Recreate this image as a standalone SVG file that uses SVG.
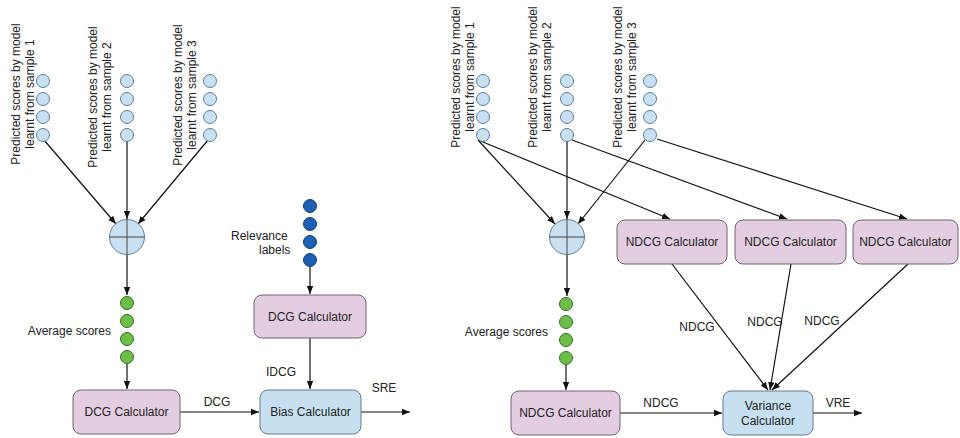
<svg xmlns="http://www.w3.org/2000/svg" width="960" height="438" viewBox="0 0 960 438">
<style>
text{font-family:"Liberation Sans",Arial,sans-serif;font-size:12px;fill:#222}
.lb{fill:#c8e0f2;stroke:#5d7e98;stroke-width:1}
.gr{fill:#6dbd47;stroke:#2f7328;stroke-width:1}
.db{fill:#1c5fb3;stroke:#0f3f7c;stroke-width:1}
.pk{fill:#e3cee1;stroke:#6e6470;stroke-width:1}
.bl{fill:#c7e0f1;stroke:#66788a;stroke-width:1}
.c{fill:none;stroke:#111;stroke-width:1.2;marker-end:url(#ah)}
.cn{fill:none;stroke:#111;stroke-width:1.2}
.m{text-anchor:middle}
.e{text-anchor:end}
</style>
<defs>
<marker id="ah" viewBox="0 0 10 10" refX="10" refY="5" markerWidth="8" markerHeight="8" markerUnits="userSpaceOnUse" orient="auto"><path d="M0,1 L10,5 L0,9 z" fill="#111"/></marker>
</defs>
<rect width="960" height="438" fill="#fff"/>

<g id="connectors">
<path class="c" d="M44,140 L116,224"/>
<path class="c" d="M127,141 L127,219"/>
<path class="c" d="M208,140 L138,224"/>
<path class="c" d="M127,255 L127,295"/>
<path class="c" d="M127,364 L127,389"/>
<path class="c" d="M180,412 L259,412"/>
<path class="c" d="M310,267 L310,294"/>
<path class="c" d="M310,338 L310,389"/>
<path class="c" d="M361,412 L410,412"/>
<path class="c" d="M478,140 L555,224"/>
<path class="c" d="M478,140 L670,219"/>
<path class="c" d="M567,141 L567,219"/>
<path class="c" d="M572,140 L787,219"/>
<path class="c" d="M645,140 L578,224"/>
<path class="c" d="M657,139 L907,219"/>
<path class="c" d="M567,255 L567,296"/>
<path class="c" d="M566,364 L566,390"/>
<path class="c" d="M620,413 L722,413"/>
<path class="c" d="M672,264 L768,390"/>
<path class="c" d="M791,264 L770,390"/>
<path class="c" d="M908,264 L772,390"/>
<path class="c" d="M813,413 L862,413"/>
<text class="m" x="217" y="406">DCG</text>
<text class="m" x="281" y="376">IDCG</text>
<text class="m" x="384" y="392">SRE</text>
<text class="m" x="697" y="331">NDCG</text>
<text class="m" x="765" y="326">NDCG</text>
<text class="m" x="822" y="325">NDCG</text>
<text class="m" x="661" y="407">NDCG</text>
<text class="m" x="838" y="407">VRE</text>
</g>

<g id="scores-left-1">
<circle class="lb" cx="43" cy="81" r="6.5"/><circle class="lb" cx="43" cy="99" r="6.5"/><circle class="lb" cx="43" cy="117" r="6.5"/><circle class="lb" cx="43" cy="135" r="6.5"/>
<text class="m" transform="translate(20,94) rotate(-90)"><tspan x="0" y="0">Predicted scores by model</tspan><tspan x="0" y="14">learnt from sample 1</tspan></text>
</g>
<g id="scores-left-2">
<circle class="lb" cx="127" cy="81" r="6.5"/><circle class="lb" cx="127" cy="99" r="6.5"/><circle class="lb" cx="127" cy="117" r="6.5"/><circle class="lb" cx="127" cy="135" r="6.5"/>
<text class="m" transform="translate(97,97) rotate(-90)"><tspan x="0" y="0">Predicted scores by model</tspan><tspan x="0" y="14">learnt from sample 2</tspan></text>
</g>
<g id="scores-left-3">
<circle class="lb" cx="210" cy="81" r="6.5"/><circle class="lb" cx="210" cy="99" r="6.5"/><circle class="lb" cx="210" cy="117" r="6.5"/><circle class="lb" cx="210" cy="135" r="6.5"/>
<text class="m" transform="translate(182,95) rotate(-90)"><tspan x="0" y="0">Predicted scores by model</tspan><tspan x="0" y="14">learnt from sample 3</tspan></text>
</g>
<g id="sum-left">
<circle class="lb" cx="127" cy="237" r="17.5"/>
<path d="M109.5,237 H144.5 M127,219.5 V254.5" stroke="#444" stroke-width="1"/>
</g>
<g id="avg-left">
<circle class="gr" cx="127" cy="303" r="6.5"/><circle class="gr" cx="127" cy="321" r="6.5"/><circle class="gr" cx="127" cy="339" r="6.5"/><circle class="gr" cx="127" cy="357" r="6.5"/>
<text class="e" x="111" y="335">Average scores</text>
</g>
<g id="relevance">
<circle class="db" cx="310" cy="206" r="6.5"/><circle class="db" cx="310" cy="224" r="6.5"/><circle class="db" cx="310" cy="242" r="6.5"/><circle class="db" cx="310" cy="260" r="6.5"/>
<text x="231" y="240">Relevance</text>
<text x="259" y="254">labels</text>
</g>
<g id="dcg-calc-1">
<rect class="pk" x="73" y="390" width="107" height="44" rx="8"/>
<text class="m" x="126.5" y="416">DCG Calculator</text>
</g>
<g id="dcg-calc-2">
<rect class="pk" x="254" y="295" width="112" height="43" rx="8"/>
<text class="m" x="310" y="321">DCG Calculator</text>
</g>
<g id="bias-calc">
<rect class="bl" x="260" y="390" width="101" height="44" rx="8"/>
<text class="m" x="310.5" y="416">Bias Calculator</text>
</g>

<g id="scores-right-1">
<circle class="lb" cx="483" cy="81" r="6.5"/><circle class="lb" cx="483" cy="99" r="6.5"/><circle class="lb" cx="483" cy="117" r="6.5"/><circle class="lb" cx="483" cy="135" r="6.5"/>
<text class="m" transform="translate(460,77) rotate(-90)"><tspan x="0" y="0">Predicted scores by model</tspan><tspan x="0" y="14">learnt from sample 1</tspan></text>
</g>
<g id="scores-right-2">
<circle class="lb" cx="567" cy="81" r="6.5"/><circle class="lb" cx="567" cy="99" r="6.5"/><circle class="lb" cx="567" cy="117" r="6.5"/><circle class="lb" cx="567" cy="135" r="6.5"/>
<text class="m" transform="translate(537,77) rotate(-90)"><tspan x="0" y="0">Predicted scores by model</tspan><tspan x="0" y="14">learnt from sample 2</tspan></text>
</g>
<g id="scores-right-3">
<circle class="lb" cx="650" cy="81" r="6.5"/><circle class="lb" cx="650" cy="99" r="6.5"/><circle class="lb" cx="650" cy="117" r="6.5"/><circle class="lb" cx="650" cy="135" r="6.5"/>
<text class="m" transform="translate(622,77) rotate(-90)"><tspan x="0" y="0">Predicted scores by model</tspan><tspan x="0" y="14">learnt from sample 3</tspan></text>
</g>
<g id="sum-right">
<circle class="lb" cx="567" cy="237" r="17.5"/>
<path d="M549.5,237 H584.5 M567,219.5 V254.5" stroke="#444" stroke-width="1"/>
</g>
<g id="avg-right">
<circle class="gr" cx="566" cy="304" r="6.5"/><circle class="gr" cx="566" cy="322" r="6.5"/><circle class="gr" cx="566" cy="340" r="6.5"/><circle class="gr" cx="566" cy="358" r="6.5"/>
<text class="e" x="548" y="336">Average scores</text>
</g>
<g id="ndcg-calc-1">
<rect class="pk" x="617" y="220" width="110" height="44" rx="8"/>
<text class="m" x="672" y="246">NDCG Calculator</text>
</g>
<g id="ndcg-calc-2">
<rect class="pk" x="735" y="220" width="111" height="44" rx="8"/>
<text class="m" x="790.5" y="246">NDCG Calculator</text>
</g>
<g id="ndcg-calc-3">
<rect class="pk" x="853" y="220" width="105" height="44" rx="8"/>
<text class="m" x="905.5" y="246">NDCG Calculator</text>
</g>
<g id="ndcg-calc-avg">
<rect class="pk" x="511" y="391" width="109" height="44" rx="8"/>
<text class="m" x="565.5" y="417">NDCG Calculator</text>
</g>
<g id="variance-calc">
<rect class="bl" x="723" y="391" width="90" height="44" rx="8"/>
<text class="m" x="768" y="410">Variance</text>
<text class="m" x="768" y="425">Calculator</text>
</g>
</svg>
